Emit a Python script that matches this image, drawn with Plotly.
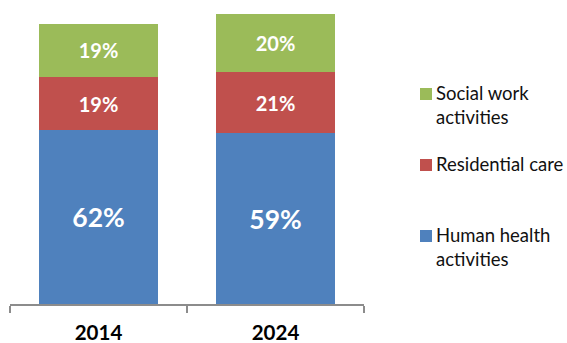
import plotly.graph_objects as go

# Employment in health and social work, by sub-sector
years = ["2014", "2024"]
totals = [100, 103.3]          # overall size index, 2014 = 100
human_health = [62, 59]        # share of total, %
residential_care = [19, 21]
social_work = [19, 20]

series_names = ["Human health activities", "Residential care", "Social work activities"]
legend_labels = ["Human health<br>activities", "Residential care", "Social work<br>activities"]
colors = ["#4F81BD", "#C0504D", "#9BBB59"]
label_sizes = [26.5, 20, 20]

W, H = 567, 343
M_L, M_R, M_T, M_B = 10, 203, 10, 39
PW, PH = W - M_L - M_R, H - M_T - M_B

fig = go.Figure()
for name, shares, color, fs in zip(series_names, [human_health, residential_care, social_work],
                                   colors, label_sizes):
    fig.add_bar(
        x=years,
        y=[s * t / 100 for s, t in zip(shares, totals)],
        name=name,
        marker=dict(color=color, line=dict(width=0)),
        text=[f"<b>{s}%</b>" for s in shares],
        textposition="inside",
        insidetextanchor="middle",
        textangle=0,
        textfont=dict(family="Lato", size=fs, color="white"),
        showlegend=False,
        hoverinfo="skip",
    )

# Legend drawn beside the plot: colour square plus label
def px_x(px):
    return (px - M_L) / PW

def px_y(py):
    return (H - M_B - py) / PH

legend_tops = {"Social work activities": 88, "Residential care": 159, "Human health activities": 230}
shapes, annotations = [], []
for name, label, color in zip(series_names, legend_labels, colors):
    top = legend_tops[name]
    shapes.append(dict(type="rect", xref="paper", yref="paper",
                       x0=px_x(420), x1=px_x(432), y0=px_y(top + 12), y1=px_y(top),
                       fillcolor=color, line=dict(width=0)))
    annotations.append(dict(xref="paper", yref="paper", x=px_x(434), y=px_y(top - 8),
                            xanchor="left", yanchor="top", align="left", showarrow=False,
                            text=label, font=dict(family="Lato", size=18.5, color="#111111")))

fig.update_layout(
    width=W, height=H,
    margin=dict(l=M_L, r=M_R, t=M_T, b=M_B, pad=0, autoexpand=False),
    barmode="stack",
    bargap=0.333,
    plot_bgcolor="white",
    paper_bgcolor="white",
    shapes=shapes,
    annotations=annotations,
    xaxis=dict(
        type="category",
        automargin=False,
        showline=True, linecolor="#8c8c8c", linewidth=1.5,
        ticks="outside", tickson="boundaries", ticklen=7, tickcolor="#8c8c8c", tickwidth=1.5,
        ticklabelstandoff=10,
        tickfont=dict(family="Lato", size=20.5, color="black", weight="bold"),
        showgrid=False, zeroline=False, fixedrange=True,
    ),
    yaxis=dict(range=[0, 104.85], visible=False, fixedrange=True, automargin=False),
)

fig.write_html("out.html", config={"displayModeBar": False})
